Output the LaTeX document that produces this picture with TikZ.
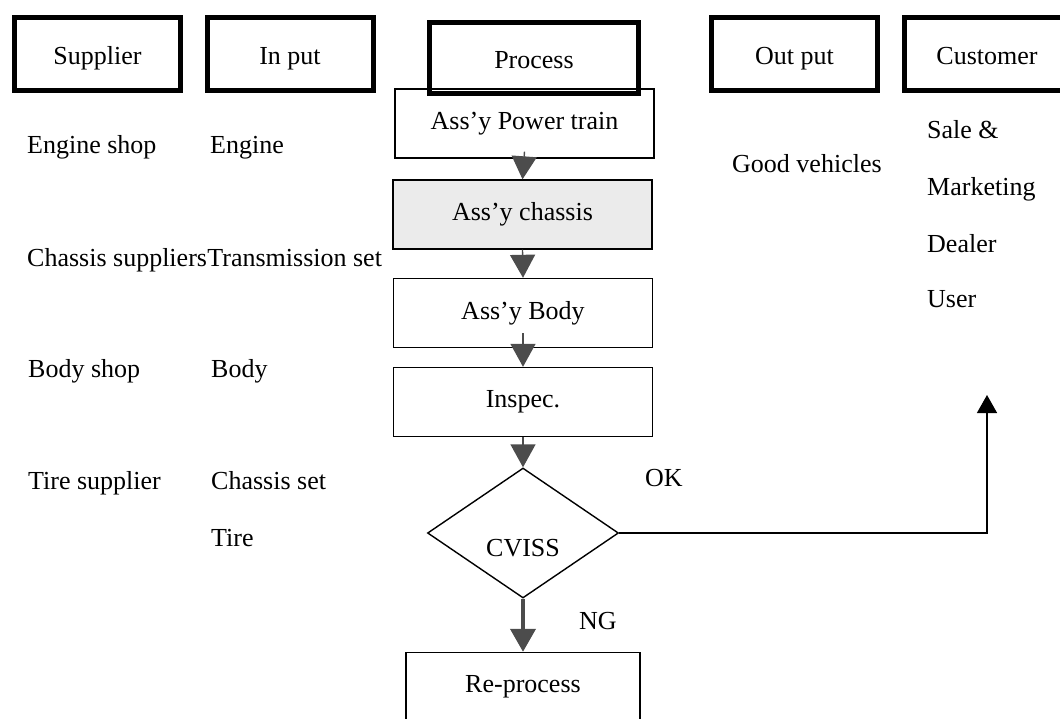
\documentclass[tikz,border=0pt]{standalone}
\usepackage{fontspec}
\setmainfont{Liberation Serif}
\usetikzlibrary{shapes.geometric,arrows.meta}

\begin{document}
\begin{tikzpicture}[x=1pt, y=-1pt,
  font=\fontsize{26}{30}\selectfont,
  head/.style={draw, line width=5pt, minimum width=166pt, minimum height=73pt, inner sep=0pt,
    text height=22pt, text depth=2pt},
  stage/.style={draw, line width=1.4pt, minimum width=259pt, minimum height=69pt, inner sep=0pt},
  check/.style={draw, diamond, line width=1.4pt, minimum width=191pt, minimum height=130pt,
    inner sep=0pt, text height=46pt, text depth=0pt},
  item/.style={anchor=base west, inner sep=0pt},
  flow/.style={draw=black!70, line width=1.4pt, -{Triangle[length=23pt, width=25pt]}},
  okline/.style={draw, line width=1.4pt, -{Triangle[length=18pt, width=20pt]}}]
\clip (0,0) rectangle (1060,718);
% header row
\node[head] (sup) at (97.5,54) {Supplier};
\node[head] (inp) at (290,54) {In put};
\node[head, minimum width=209pt, minimum height=71pt] (prc) at (534,58) {Process};
\node[head] (out) at (794.5,54) {Out put};
\node[head] (cus) at (987,54) {Customer};
% process chain
\node[stage] (pt) at (524.5,123.5) {Ass'y Power train};
\node[stage, fill=black!8] (ch) at (522.5,214.5) {Ass'y chassis};
\node[stage] (bd) at (523,313) {Ass'y Body};
\node[stage] (ins) at (523,402) {Inspec.};
\node[check] (cv) at (523,533) {CVISS};
\node[stage, minimum width=234pt] (rp) at (523,687) {Re-process};
\coordinate (okend) at (987,395);
% supplier / input columns
\node[item] (es) at (27,153) {Engine shop};
\node[item] (en) at (210,153) {Engine};
\node[item] (cs) at (27,266) {Chassis suppliers};
\node[item] (ts) at (cs.base east) {Transmission set};
\node[item] (bs) at (28,377) {Body shop};
\node[item] (by) at (211,377) {Body};
\node[item] (tsu) at (28,489) {Tire supplier};
\node[item] (cst) at (211,489) {Chassis set};
\node[item] (tr) at (211,546) {Tire};
% output / customer columns
\node[item] (gv) at (732,172) {Good vehicles};
\node[item] (sm) at (927,138) {Sale \&};
\node[item] (mk) at (927,195) {Marketing};
\node[item] (dl) at (927,252) {Dealer};
\node[item] (us) at (927,307) {User};
% arrows
\draw[flow] ([yshift=7pt]pt.south) -- (ch.north);
\draw[flow] (ch.south) -- (bd.north);
\draw[flow] ([yshift=15pt]bd.south) -- (ins.north);
\draw[flow] (ins.south) -- (cv.north);
\draw[flow, line width=4pt] (cv.south) -- (rp.north);
\draw[okline] (cv.east) -| (okend);
\node[item] (ok) at (645,486) {OK};
\node[item] (ng) at (579,629) {NG};
\end{tikzpicture}
\end{document}
